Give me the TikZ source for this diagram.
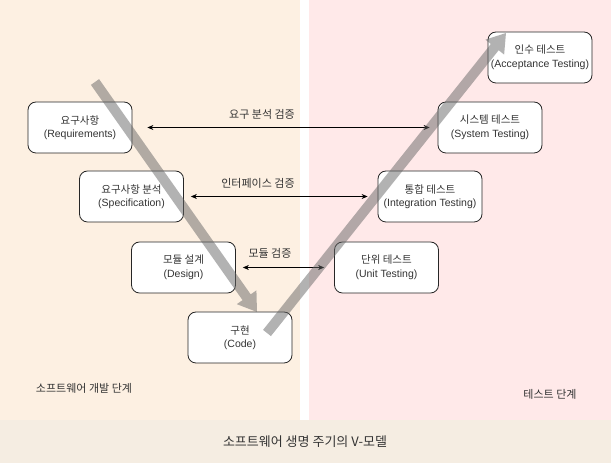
\documentclass[tikz,border=0pt]{standalone}
\usepackage{fontspec}
\setmainfont{Liberation Sans}
\newfontfamily\kr{Noto Sans CJK KR}
\usetikzlibrary{arrows.meta,calc}
\definecolor{devbg}{HTML}{FDF0E2}
\definecolor{testbg}{HTML}{FFE9E9}
\definecolor{footbg}{HTML}{F5EDE2}
\definecolor{txt}{HTML}{333333}
\tikzset{
  phase/.style={draw=black!85, line width=0.8pt, fill=white, rounded corners=8pt,
    minimum width=104pt, minimum height=51pt, align=center, inner sep=2pt,
    text=txt, font=\fontsize{10.5}{13.5}\selectfont},
  verif/.style={black, line width=0.6pt, {Stealth[length=6pt,width=5pt]}-{Stealth[length=6pt,width=5pt]}},
  lbl/.style={text=txt, font=\fontsize{11}{13}\selectfont\kr, inner sep=0pt},
  bigarrow/.style={fill=gray!80!black, fill opacity=0.5}
}
\newcommand{\blockarrow}[2]{%
  \path let \p1=(#1), \p2=(#2), \n1={atan2(\y2-\y1,\x2-\x1)}, \n2={veclen(\x2-\x1,\y2-\y1)} in
    [bigarrow, shift={(\p1)}, rotate=\n1]
    (0pt,-5pt) -- (\n2-18pt,-5pt) -- (\n2-18pt,-12pt) -- (\n2,0pt) -- (\n2-18pt,12pt) -- (\n2-18pt,5pt) -- (0pt,5pt) -- cycle;}
\begin{document}
\begin{tikzpicture}[x=1pt,y=1pt]
\useasboundingbox (0,0) rectangle (611,463);
\fill[white] (0,0) rectangle (611,463);
\fill[devbg] (0,43) rectangle (300,463);
\fill[testbg] (309,43) rectangle (611,463);
\fill[footbg] (0,0) rectangle (611,43);

\node[phase] (req) at (80,335.5) {{\kr 요구사항}\\(Requirements)};
\node[phase] (spec) at (131.5,266.5) {{\kr 요구사항 분석}\\(Specification)};
\node[phase] (design) at (183.5,195.5) {{\kr 모듈 설계}\\(Design)};
\node[phase] (code) at (240,125.5) {{\kr 구현}\\(Code)};
\node[phase] (acc) at (540,405.5) {{\kr 인수 테스트}\\(Acceptance Testing)};
\node[phase] (sys) at (490,335.5) {{\kr 시스템 테스트}\\(System Testing)};
\node[phase] (integ) at (430,266.5) {{\kr 통합 테스트}\\(Integration Testing)};
\node[phase] (unit) at (386.5,195.5) {{\kr 단위 테스트}\\(Unit Testing)};

\draw[verif, shorten <=15pt, shorten >=8pt] (req) -- (sys);
\draw[verif, shorten <=7pt, shorten >=10pt] (spec) -- (integ);
\draw[verif, shorten <=7pt, shorten >=10pt] (design) -- (unit);

\node[lbl] (l1) at (262,349) {요구 분석 검증};
\node[lbl] (l2) at (258,280) {인터페이스 검증};
\node[lbl] (l3) at (270,210) {모듈 검증};

\coordinate (dstart) at (95,381);
\coordinate (dend) at (257,151);
\coordinate (ustart) at (267,130);
\coordinate (uend) at (506,430);
\blockarrow{dstart}{dend}
\blockarrow{ustart}{uend}

\node[lbl] (devlbl) at (84,75) {소프트웨어 개발 단계};
\node[lbl] (testlbl) at (550,69) {테스트 단계};
\node[lbl, font=\fontsize{13}{15}\selectfont\kr] (title) at (305,21) {소프트웨어 생명 주기의 V-모델};
\end{tikzpicture}
\end{document}
